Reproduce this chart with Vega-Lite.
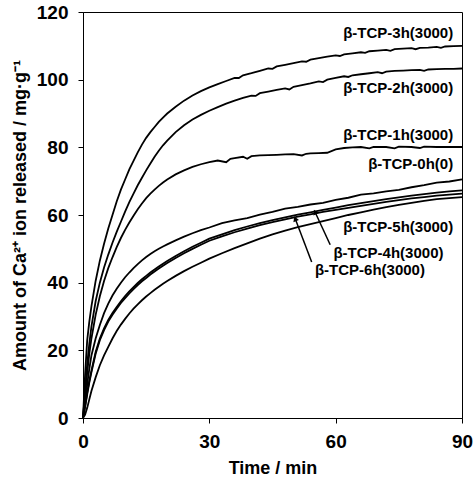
{
  "$schema": "https://vega.github.io/schema/vega-lite/v6.json",
  "width": 379,
  "height": 406,
  "autosize": {"type": "none"},
  "padding": {"left": 83, "top": 12, "right": 12, "bottom": 59},
  "background": "white",
  "config": {
    "view": {"stroke": "black", "strokeWidth": 1},
    "font": "Liberation Sans",
    "axis": {
      "labelFont": "Liberation Sans", "labelFontWeight": "bold", "labelFontSize": 19, "labelColor": "black",
      "titleFont": "Liberation Sans", "titleFontWeight": "bold", "titleFontSize": 18, "titleColor": "black",
      "domainColor": "black", "domainWidth": 1, "tickColor": "black", "tickSize": 5, "tickWidth": 1,
      "grid": false, "labelFlush": false, "labelOverlap": false
    }
  },
  "datasets": {
    "curves": [
      {"s":"3h","t":0,"v":0},{"s":"3h","t":0.5,"v":13},{"s":"3h","t":1,"v":23},{"s":"3h","t":1.5,"v":28.5},{"s":"3h","t":2,"v":33},{"s":"3h","t":3,"v":40.5},{"s":"3h","t":4,"v":46.5},{"s":"3h","t":5,"v":51.5},{"s":"3h","t":6,"v":56},{"s":"3h","t":7,"v":60},{"s":"3h","t":8,"v":64},{"s":"3h","t":9,"v":67.5},{"s":"3h","t":10,"v":70.5},{"s":"3h","t":11,"v":73.5},{"s":"3h","t":12,"v":76},{"s":"3h","t":13,"v":78.5},{"s":"3h","t":14,"v":80.8},{"s":"3h","t":15,"v":82.8},{"s":"3h","t":16,"v":84.5},{"s":"3h","t":17,"v":86},{"s":"3h","t":18,"v":87.5},{"s":"3h","t":19,"v":88.8},
      {"s":"3h","t":20,"v":90},{"s":"3h","t":22,"v":92},{"s":"3h","t":24,"v":93.8},{"s":"3h","t":26,"v":95.3},{"s":"3h","t":28,"v":96.6},{"s":"3h","t":30,"v":97.7},{"s":"3h","t":32,"v":98.7},{"s":"3h","t":34,"v":99.6},{"s":"3h","t":36,"v":100.5},{"s":"3h","t":37,"v":100.5},{"s":"3h","t":38,"v":101.3},{"s":"3h","t":40,"v":101.9},{"s":"3h","t":42,"v":102.6},{"s":"3h","t":44,"v":103.3},{"s":"3h","t":45,"v":103.2},{"s":"3h","t":46,"v":103.9},{"s":"3h","t":48,"v":104.4},{"s":"3h","t":50,"v":104.9},{"s":"3h","t":52,"v":105.4},{"s":"3h","t":53,"v":105.3},{"s":"3h","t":54,"v":105.9},{"s":"3h","t":56,"v":106.4},{"s":"3h","t":58,"v":106.8},{"s":"3h","t":60,"v":107.2},{"s":"3h","t":61,"v":107.0},{"s":"3h","t":62,"v":107.5},{"s":"3h","t":64,"v":107.8},{"s":"3h","t":66,"v":108.1},{"s":"3h","t":67,"v":107.9},{"s":"3h","t":68,"v":108.4},{"s":"3h","t":70,"v":108.6},{"s":"3h","t":72,"v":108.8},{"s":"3h","t":73,"v":108.5},{"s":"3h","t":74,"v":109},{"s":"3h","t":76,"v":109.2},{"s":"3h","t":78,"v":109.3},{"s":"3h","t":79,"v":109.0},{"s":"3h","t":80,"v":109.4},{"s":"3h","t":82,"v":109.5},{"s":"3h","t":84,"v":109.7},{"s":"3h","t":85,"v":109.4},{"s":"3h","t":86,"v":109.8},{"s":"3h","t":88,"v":109.9},{"s":"3h","t":90,"v":110},
      {"s":"2h","t":0,"v":0},{"s":"2h","t":0.5,"v":8},{"s":"2h","t":1,"v":16},{"s":"2h","t":1.5,"v":22},{"s":"2h","t":2,"v":27},{"s":"2h","t":3,"v":34.5},{"s":"2h","t":4,"v":40},{"s":"2h","t":5,"v":44.5},{"s":"2h","t":6,"v":48.3},{"s":"2h","t":7,"v":51.8},{"s":"2h","t":8,"v":55},{"s":"2h","t":9,"v":58},{"s":"2h","t":10,"v":61},{"s":"2h","t":11,"v":63.8},{"s":"2h","t":12,"v":66.3},{"s":"2h","t":13,"v":68.8},{"s":"2h","t":14,"v":71},{"s":"2h","t":15,"v":73.2},{"s":"2h","t":16,"v":75.2},{"s":"2h","t":17,"v":77.2},{"s":"2h","t":18,"v":79},{"s":"2h","t":19,"v":80.6},
      {"s":"2h","t":20,"v":82},{"s":"2h","t":22,"v":84.5},{"s":"2h","t":24,"v":86.5},{"s":"2h","t":26,"v":88.2},{"s":"2h","t":28,"v":89.6},{"s":"2h","t":30,"v":90.8},{"s":"2h","t":32,"v":91.9},{"s":"2h","t":34,"v":92.9},{"s":"2h","t":36,"v":93.8},{"s":"2h","t":38,"v":94.6},{"s":"2h","t":40,"v":95.3},{"s":"2h","t":41,"v":95.2},{"s":"2h","t":42,"v":96},{"s":"2h","t":44,"v":96.5},{"s":"2h","t":46,"v":97},{"s":"2h","t":48,"v":97.4},{"s":"2h","t":49,"v":97.1},{"s":"2h","t":50,"v":97.9},{"s":"2h","t":52,"v":98.4},{"s":"2h","t":54,"v":98.9},{"s":"2h","t":56,"v":99.5},{"s":"2h","t":57,"v":99.3},{"s":"2h","t":58,"v":100},{"s":"2h","t":60,"v":100.5},{"s":"2h","t":62,"v":101},{"s":"2h","t":63,"v":100.8},{"s":"2h","t":64,"v":101.3},{"s":"2h","t":66,"v":101.6},{"s":"2h","t":68,"v":101.9},{"s":"2h","t":70,"v":102.2},{"s":"2h","t":71,"v":101.9},{"s":"2h","t":72,"v":102.4},{"s":"2h","t":74,"v":102.6},{"s":"2h","t":76,"v":102.7},{"s":"2h","t":78,"v":102.8},{"s":"2h","t":80,"v":102.9},{"s":"2h","t":81,"v":102.6},{"s":"2h","t":82,"v":103},{"s":"2h","t":84,"v":103.1},{"s":"2h","t":86,"v":103.2},{"s":"2h","t":88,"v":103.2},{"s":"2h","t":90,"v":103.3},
      {"s":"1h","t":0,"v":0},{"s":"1h","t":0.5,"v":7},{"s":"1h","t":1,"v":13.5},{"s":"1h","t":1.5,"v":19},{"s":"1h","t":2,"v":23.5},{"s":"1h","t":3,"v":30.5},{"s":"1h","t":4,"v":36},{"s":"1h","t":5,"v":40.5},{"s":"1h","t":6,"v":44.3},{"s":"1h","t":7,"v":47.5},{"s":"1h","t":8,"v":50.5},{"s":"1h","t":9,"v":53.2},{"s":"1h","t":10,"v":55.6},{"s":"1h","t":11,"v":57.8},{"s":"1h","t":12,"v":59.8},{"s":"1h","t":13,"v":61.7},{"s":"1h","t":14,"v":63.4},{"s":"1h","t":15,"v":65},{"s":"1h","t":16,"v":66.3},{"s":"1h","t":17,"v":67.5},{"s":"1h","t":18,"v":68.6},{"s":"1h","t":19,"v":69.6},
      {"s":"1h","t":20,"v":70.5},{"s":"1h","t":22,"v":72},{"s":"1h","t":24,"v":73.2},{"s":"1h","t":26,"v":74.2},{"s":"1h","t":28,"v":75},{"s":"1h","t":30,"v":75.6},{"s":"1h","t":32,"v":76.1},{"s":"1h","t":34,"v":75.6},{"s":"1h","t":35,"v":76.6},{"s":"1h","t":36,"v":76.8},{"s":"1h","t":38,"v":77.2},{"s":"1h","t":39,"v":76.6},{"s":"1h","t":40,"v":77.4},{"s":"1h","t":42,"v":77.6},{"s":"1h","t":44,"v":77.7},{"s":"1h","t":46,"v":77.8},{"s":"1h","t":48,"v":77.9},{"s":"1h","t":50,"v":78.0},{"s":"1h","t":52,"v":77.6},{"s":"1h","t":53,"v":78.1},{"s":"1h","t":54,"v":78.2},{"s":"1h","t":56,"v":78.3},{"s":"1h","t":58,"v":78.4},{"s":"1h","t":60,"v":79.4},{"s":"1h","t":62,"v":79.8},{"s":"1h","t":64,"v":80.0},{"s":"1h","t":66,"v":80.1},{"s":"1h","t":68,"v":79.7},{"s":"1h","t":69,"v":80.1},{"s":"1h","t":72,"v":80.1},{"s":"1h","t":74,"v":79.7},{"s":"1h","t":75,"v":80.2},{"s":"1h","t":78,"v":80.1},{"s":"1h","t":80,"v":79.8},{"s":"1h","t":81,"v":80.2},{"s":"1h","t":84,"v":80.1},{"s":"1h","t":87,"v":80.1},{"s":"1h","t":90,"v":80.1},
      {"s":"0h","t":0,"v":0},{"s":"0h","t":0.5,"v":5},{"s":"0h","t":1,"v":10},{"s":"0h","t":1.5,"v":14.5},{"s":"0h","t":2,"v":18.5},{"s":"0h","t":3,"v":23.5},{"s":"0h","t":4,"v":27.5},{"s":"0h","t":5,"v":31},{"s":"0h","t":6,"v":33.8},{"s":"0h","t":7,"v":36.2},{"s":"0h","t":8,"v":38.2},{"s":"0h","t":9,"v":40},{"s":"0h","t":10,"v":41.6},{"s":"0h","t":11,"v":43},{"s":"0h","t":12,"v":44.3},{"s":"0h","t":13,"v":45.5},{"s":"0h","t":14,"v":46.6},{"s":"0h","t":15,"v":47.6},{"s":"0h","t":16,"v":48.5},{"s":"0h","t":17,"v":49.3},{"s":"0h","t":18,"v":50},{"s":"0h","t":19,"v":50.7},{"s":"0h","t":20,"v":51.3},{"s":"0h","t":22,"v":52.5},{"s":"0h","t":24,"v":53.6},{"s":"0h","t":26,"v":54.6},{"s":"0h","t":28,"v":55.5},{"s":"0h","t":30,"v":56.3},{"s":"0h","t":33,"v":57.6},{"s":"0h","t":36,"v":58.4},{"s":"0h","t":39,"v":59.1},{"s":"0h","t":42,"v":60.1},{"s":"0h","t":45,"v":60.9},{"s":"0h","t":48,"v":61.9},{"s":"0h","t":51,"v":62.4},{"s":"0h","t":54,"v":63.1},{"s":"0h","t":57,"v":63.6},{"s":"0h","t":60,"v":64.5},{"s":"0h","t":63,"v":65.1},{"s":"0h","t":66,"v":66.0},{"s":"0h","t":69,"v":66.4},{"s":"0h","t":72,"v":67},{"s":"0h","t":75,"v":67.4},{"s":"0h","t":78,"v":68.2},{"s":"0h","t":81,"v":68.8},{"s":"0h","t":84,"v":69.6},{"s":"0h","t":87,"v":69.9},{"s":"0h","t":90,"v":70.5},
      {"s":"4h","t":0,"v":0},{"s":"4h","t":0.5,"v":3.5},{"s":"4h","t":1,"v":7.5},{"s":"4h","t":1.5,"v":11},{"s":"4h","t":2,"v":14},{"s":"4h","t":3,"v":19.5},{"s":"4h","t":4,"v":23.5},{"s":"4h","t":5,"v":26.5},{"s":"4h","t":6,"v":29},{"s":"4h","t":7,"v":31},{"s":"4h","t":8,"v":32.8},{"s":"4h","t":9,"v":34.5},{"s":"4h","t":10,"v":36},{"s":"4h","t":11,"v":37.4},{"s":"4h","t":12,"v":38.7},{"s":"4h","t":13,"v":39.9},{"s":"4h","t":14,"v":41},{"s":"4h","t":15,"v":42},{"s":"4h","t":16,"v":43},{"s":"4h","t":17,"v":43.9},{"s":"4h","t":18,"v":44.8},{"s":"4h","t":19,"v":45.6},{"s":"4h","t":20,"v":46.4},{"s":"4h","t":22,"v":47.9},{"s":"4h","t":24,"v":49.3},{"s":"4h","t":26,"v":50.6},{"s":"4h","t":28,"v":51.8},{"s":"4h","t":30,"v":53},{"s":"4h","t":33,"v":54.3},{"s":"4h","t":36,"v":55.5},{"s":"4h","t":39,"v":56.6},{"s":"4h","t":42,"v":57.6},{"s":"4h","t":45,"v":58.5},{"s":"4h","t":48,"v":59.3},{"s":"4h","t":51,"v":60.1},{"s":"4h","t":54,"v":60.8},{"s":"4h","t":57,"v":61.5},{"s":"4h","t":60,"v":62.2},{"s":"4h","t":63,"v":62.9},{"s":"4h","t":66,"v":63.5},{"s":"4h","t":69,"v":64.1},{"s":"4h","t":72,"v":64.7},{"s":"4h","t":75,"v":65.2},{"s":"4h","t":78,"v":65.7},{"s":"4h","t":81,"v":66.2},{"s":"4h","t":84,"v":66.6},{"s":"4h","t":87,"v":67},{"s":"4h","t":90,"v":67.3},
      {"s":"6h","t":0,"v":0},{"s":"6h","t":0.5,"v":3.2},{"s":"6h","t":1,"v":7},{"s":"6h","t":1.5,"v":10.5},{"s":"6h","t":2,"v":13.5},{"s":"6h","t":3,"v":19},{"s":"6h","t":4,"v":23},{"s":"6h","t":5,"v":26},{"s":"6h","t":6,"v":28.5},{"s":"6h","t":7,"v":30.5},{"s":"6h","t":8,"v":32.3},{"s":"6h","t":9,"v":34},{"s":"6h","t":10,"v":35.4},{"s":"6h","t":11,"v":36.8},{"s":"6h","t":12,"v":38.1},{"s":"6h","t":13,"v":39.3},{"s":"6h","t":14,"v":40.4},{"s":"6h","t":15,"v":41.4},{"s":"6h","t":16,"v":42.4},{"s":"6h","t":17,"v":43.3},{"s":"6h","t":18,"v":44.2},{"s":"6h","t":19,"v":45},{"s":"6h","t":20,"v":45.8},{"s":"6h","t":22,"v":47.3},{"s":"6h","t":24,"v":48.7},{"s":"6h","t":26,"v":50},{"s":"6h","t":28,"v":51.2},{"s":"6h","t":30,"v":52.4},{"s":"6h","t":33,"v":53.7},{"s":"6h","t":36,"v":54.9},{"s":"6h","t":39,"v":56},{"s":"6h","t":42,"v":57},{"s":"6h","t":45,"v":57.9},{"s":"6h","t":48,"v":58.7},{"s":"6h","t":51,"v":59.5},{"s":"6h","t":54,"v":60.2},{"s":"6h","t":57,"v":60.9},{"s":"6h","t":60,"v":61.5},{"s":"6h","t":63,"v":62.1},{"s":"6h","t":66,"v":62.7},{"s":"6h","t":69,"v":63.3},{"s":"6h","t":72,"v":63.9},{"s":"6h","t":75,"v":64.4},{"s":"6h","t":78,"v":64.9},{"s":"6h","t":81,"v":65.3},{"s":"6h","t":84,"v":65.7},{"s":"6h","t":87,"v":66},{"s":"6h","t":90,"v":66.3},
      {"s":"5h","t":0,"v":0},{"s":"5h","t":0.5,"v":1},{"s":"5h","t":1,"v":3},{"s":"5h","t":1.5,"v":5.5},{"s":"5h","t":2,"v":8},{"s":"5h","t":3,"v":12},{"s":"5h","t":4,"v":15.6},{"s":"5h","t":5,"v":18.5},{"s":"5h","t":6,"v":21},{"s":"5h","t":7,"v":23.5},{"s":"5h","t":8,"v":25.7},{"s":"5h","t":9,"v":27.6},{"s":"5h","t":10,"v":29.3},{"s":"5h","t":11,"v":30.9},{"s":"5h","t":12,"v":32.3},{"s":"5h","t":13,"v":33.6},{"s":"5h","t":14,"v":34.8},{"s":"5h","t":15,"v":35.9},{"s":"5h","t":16,"v":36.9},{"s":"5h","t":17,"v":37.9},{"s":"5h","t":18,"v":38.8},{"s":"5h","t":19,"v":39.7},{"s":"5h","t":20,"v":40.5},{"s":"5h","t":22,"v":42},{"s":"5h","t":24,"v":43.4},{"s":"5h","t":26,"v":44.7},{"s":"5h","t":28,"v":45.9},{"s":"5h","t":30,"v":47.1},{"s":"5h","t":33,"v":48.7},{"s":"5h","t":36,"v":50.2},{"s":"5h","t":39,"v":51.6},{"s":"5h","t":42,"v":53},{"s":"5h","t":45,"v":54.3},{"s":"5h","t":48,"v":55.4},{"s":"5h","t":51,"v":56.4},{"s":"5h","t":54,"v":57.3},{"s":"5h","t":57,"v":58.2},{"s":"5h","t":60,"v":59.1},{"s":"5h","t":63,"v":60},{"s":"5h","t":66,"v":60.8},{"s":"5h","t":69,"v":61.6},{"s":"5h","t":72,"v":62.3},{"s":"5h","t":75,"v":63},{"s":"5h","t":78,"v":63.6},{"s":"5h","t":81,"v":64.2},{"s":"5h","t":84,"v":64.7},{"s":"5h","t":87,"v":65},{"s":"5h","t":90,"v":65.3}
    ],
    "labels": [
      {"t":87.9,"v":113.7,"text":"β-TCP-3h(3000)"},
      {"t":87.9,"v":97.4,"text":"β-TCP-2h(3000)"},
      {"t":87.9,"v":83.6,"text":"β-TCP-1h(3000)"},
      {"t":87.9,"v":75.2,"text":"β-TCP-0h(0)"},
      {"t":87.9,"v":56.5,"text":"β-TCP-5h(3000)"},
      {"t":85.6,"v":48.9,"text":"β-TCP-4h(3000)"},
      {"t":81.2,"v":43.7,"text":"β-TCP-6h(3000)"}
    ],
    "arrows": [
      {"t":58.7,"v":51.2,"t2":55.1,"v2":60.9,"angle":335},
      {"t":54.3,"v":46.1,"t2":50.4,"v2":58.9,"angle":339}
    ]
  },
  "layer": [
    {
      "data": {"name": "curves"},
      "mark": {"type": "line", "color": "black", "strokeWidth": 1.8, "interpolate": "linear"},
      "encoding": {
        "x": {"field": "t", "type": "quantitative", "scale": {"domain": [0, 90], "nice": false},
          "axis": {"values": [0, 30, 60, 90], "title": "Time / min", "labelPadding": 9, "titlePadding": 8}},
        "y": {"field": "v", "type": "quantitative", "scale": {"domain": [0, 120], "nice": false},
          "axis": {"values": [0, 20, 40, 60, 80, 100, 120], "title": "Amount of Ca²⁺ ion released / mg·g⁻¹", "titleFontSize": 18, "labelPadding": 10, "titlePadding": 7}},
        "detail": {"field": "s", "type": "nominal"}
      }
    },
    {
      "data": {"name": "labels"},
      "mark": {"type": "text", "align": "right", "baseline": "middle", "font": "Liberation Sans", "fontWeight": "bold", "fontSize": 15, "color": "black"},
      "encoding": {
        "x": {"field": "t", "type": "quantitative"},
        "y": {"field": "v", "type": "quantitative"},
        "text": {"field": "text", "type": "nominal"}
      }
    },
    {
      "data": {"name": "arrows"},
      "mark": {"type": "rule", "color": "black", "strokeWidth": 1.5},
      "encoding": {
        "x": {"field": "t", "type": "quantitative"},
        "y": {"field": "v", "type": "quantitative"},
        "x2": {"field": "t2"},
        "y2": {"field": "v2"}
      }
    },
    {
      "data": {"name": "arrows"},
      "mark": {"type": "point", "shape": "triangle-up", "filled": true, "color": "black", "size": 35, "opacity": 1},
      "encoding": {
        "x": {"field": "t2", "type": "quantitative"},
        "y": {"field": "v2", "type": "quantitative"},
        "angle": {"field": "angle", "type": "quantitative", "scale": null}
      }
    }
  ]
}
